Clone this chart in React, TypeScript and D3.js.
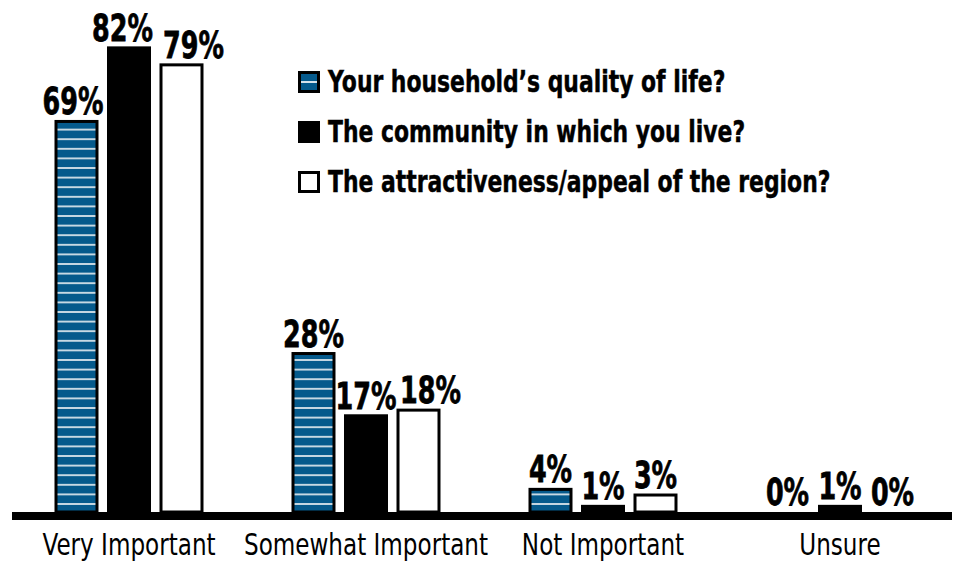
import React from 'react';
import * as d3 from 'd3';

const categories = ['Very Important', 'Somewhat Important', 'Not Important', 'Unsure'];
const seriesNames = [
  'Your household\u2019s quality of life?',
  'The community in which you live?',
  'The attractiveness/appeal of the region?',
];
const household = [69, 28, 4, 0];
const community = [82, 17, 1, 1];
const region = [79, 18, 3, 0];
const series = [household, community, region];

const W = 964;
const H = 562;
const BLUE = '#055a8c';
const FONT = '"DejaVu Sans", sans-serif';

// label nudges (style only) to avoid overlaps between neighbouring value labels
const nudge = (ci: number, si: number) => {
  if (ci === 0 && si === 0) return -3.5;
  if (ci === 0 && si === 1) return -6.5;
  if (si === 2 && ci < 2) return 12;
  return 0;
};

export default function App() {
  const x0 = d3.scaleBand<string>().domain(categories).range([10.5, 958.5]);
  const x1 = d3
    .scaleBand<string>()
    .domain(['0', '1', '2'])
    .range([-78.75, 78.75])
    .paddingInner(0.162)
    .paddingOuter(0.081);
  const y = d3.scaleLinear().domain([0, 100]).range([512, -54]);
  const fills = ['url(#stripes)', '#000', '#fff'];

  return (
    <svg width={W} height={H} style={{ position: 'absolute', left: 0, top: 0, background: '#fff' }}>
      <defs>
        <pattern id="stripes" patternUnits="userSpaceOnUse" width={10} height={9.6}>
          <rect width={10} height={9.6} fill={BLUE} />
          <rect y={4} width={10} height={1.6} fill="#eef2f5" />
        </pattern>
      </defs>
      {categories.map((c, ci) => {
        const cx = x0(c)! + x0.bandwidth() / 2;
        return (
          <g key={c}>
            {series.map((s, si) => {
              const v = s[ci];
              const bx = cx + x1(String(si))!;
              const bw = x1.bandwidth();
              return (
                <g key={si}>
                  {v > 0 && (
                    <rect
                      x={bx + 1.5}
                      y={y(v)}
                      width={bw - 3}
                      height={y(0) - y(v)}
                      fill={fills[si]}
                      stroke="#000"
                      strokeWidth={3}
                    />
                  )}
                  <g transform={`translate(${bx + bw / 2 + nudge(ci, si)},${y(v) - 7}) scale(0.67,1)`}>
                    <text
                      textAnchor="middle"
                      fontFamily={FONT}
                      fontWeight="bold"
                      fontSize={38}
                      fill="#000"
                      stroke="#000"
                      strokeWidth={0.8}
                    >
                      {v}%
                    </text>
                  </g>
                </g>
              );
            })}
            <g transform={`translate(${cx},555) scale(0.77,1)`}>
              <text textAnchor="middle" fontFamily={FONT} fontSize={30} fill="#000">
                {c}
              </text>
            </g>
          </g>
        );
      })}
      <line x1={12} x2={952} y1={516} y2={516} stroke="#000" strokeWidth={8} />
      {seriesNames.map((n, i) => {
        const ry = 82 + i * 50;
        return (
          <g key={n}>
            <rect x={299.5} y={ry - 9.5} width={19} height={19} fill={i === 0 ? BLUE : fills[i]} stroke="#000" strokeWidth={3} />
            {i === 0 && <rect x={301} y={ry - 0.9} width={16} height={1.8} fill="#eef2f5" />}
            <g transform={`translate(328,${ry + 9.5}) scale(0.73,1)`}>
              <text fontFamily={FONT} fontWeight="bold" fontSize={30} fill="#000" stroke="#000" strokeWidth={0.5}>
                {n}
              </text>
            </g>
          </g>
        );
      })}
    </svg>
  );
}
